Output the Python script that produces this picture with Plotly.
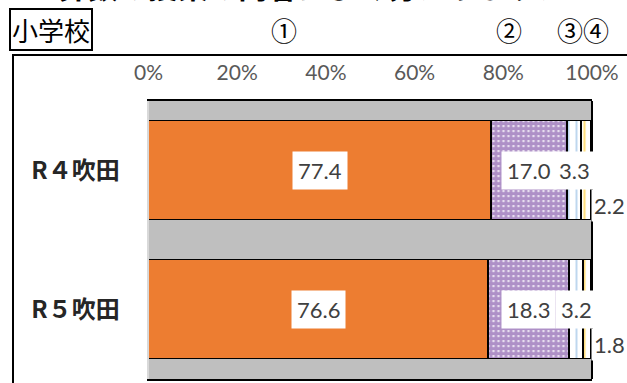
import plotly.graph_objects as go

# Survey results (percent) for each year, split by answer ①–④
categories = ["R４吹田", "R５吹田"]
answer1 = [77.4, 76.6]
answer2 = [17.0, 18.3]
answer3 = [3.3, 3.2]
answer4 = [2.2, 1.8]

tick_values = [0, 20, 40, 60, 80, 100]
tick_labels = ["0%", "20%", "40%", "60%", "80%", "100%"]

title_text = "６．算数の授業の内容はよく分かりますか"
group_label = "小学校"
answer_marks = ["①", "②", "③", "④"]

W, H = 627, 383
JP = "Noto Sans CJK JP"
NUM = "Lato"


def px(x):
    return x / W


def py(y):
    return 1 - y / H


fig = go.Figure()

series = [
    (answer1, dict(color="#ED7D31")),
    (answer2, dict(color="white",
                   pattern=dict(shape=".", fgcolor="#5E2290", bgcolor="white",
                                size=5, solidity=0.8, fillmode="overlay"))),
    (answer3, dict(color="white",
                   pattern=dict(shape="|", fgcolor="#5B9BD5", bgcolor="white",
                                size=8, solidity=0.2, fillmode="overlay"))),
    (answer4, dict(color="white",
                   pattern=dict(shape="|", fgcolor="#FFC000", bgcolor="white",
                                size=8, solidity=0.28, fillmode="overlay"))),
]
for vals, marker in series:
    marker["line"] = dict(color="black", width=1.5)
    fig.add_trace(go.Bar(
        y=categories, x=vals, orientation="h", width=0.71,
        marker=marker, hoverinfo="skip", showlegend=False,
    ))

# value labels on white boxes
label_font = dict(family=NUM, size=22, color="#404040")
for i, cat in enumerate(categories):
    a, b, c, d = answer1[i], answer2[i], answer3[i], answer4[i]
    centers = [a / 2, a + b / 2, a + b + c / 2]
    for val, cx in zip([a, b, c], centers):
        fig.add_annotation(x=cx, y=cat, xref="x", yref="y", text=f"{val:.1f}",
                           showarrow=False, font=label_font, bgcolor="white",
                           borderpad=5, xanchor="center", yanchor="middle")
    fig.add_annotation(x=a + b + c + d, y=cat, xref="x", yref="y",
                       text=f"{d:.1f}", showarrow=False, font=label_font,
                       bgcolor="white", borderpad=2, xanchor="left",
                       yanchor="middle", xshift=-1, yshift=-35)

# outer frame of the chart panel
fig.add_shape(type="rect", xref="paper", yref="paper",
              x0=px(13), x1=px(640), y0=py(55), y1=py(400),
              line=dict(color="black", width=2), fillcolor="rgba(0,0,0,0)",
              layer="below")
# right border of the plot area
fig.add_shape(type="line", xref="x domain", yref="y domain",
              x0=1, x1=1, y0=0, y1=1, line=dict(color="black", width=2))

# header texts
fig.add_annotation(x=px(-4), y=py(9), xref="paper", yref="paper",
                   xanchor="left", yanchor="bottom", text=f"<b>{title_text}</b>",
                   showarrow=False, font=dict(family=JP, size=30, color="black"))
fig.add_annotation(x=px(51), y=py(29), xref="paper", yref="paper",
                   xanchor="center", yanchor="middle",
                   text=group_label, showarrow=False,
                   font=dict(family=JP, size=26, color="black"),
                   bordercolor="black", borderwidth=2, borderpad=1, bgcolor="white")
for mark, cx in zip(answer_marks, [284, 509, 570, 596]):
    fig.add_annotation(x=px(cx), y=py(29), xref="paper", yref="paper",
                       xanchor="center", yanchor="middle",
                       text=mark, showarrow=False,
                       font=dict(family=JP, size=26, color="black"))

fig.update_layout(
    width=W, height=H,
    margin=dict(l=0, r=0, t=0, b=0, autoexpand=False),
    paper_bgcolor="white",
    plot_bgcolor="#BFBFBF",
    barmode="stack",
    bargap=0,
    xaxis=dict(
        domain=[px(148.5), px(592)], range=[0, 100], side="top",
        tickvals=tick_values, ticktext=tick_labels,
        tickfont=dict(family=NUM, size=21, color="#595959"),
        showgrid=False, zeroline=False, ticks="",
        showline=True, linecolor="black", linewidth=2, mirror=True,
        ticklabelstandoff=11, fixedrange=True,
    ),
    yaxis=dict(
        domain=[py(379), py(101)], autorange="reversed",
        tickfont=dict(family=JP, size=24, color="#262626", weight="bold"),
        showgrid=False, zeroline=False, ticks="",
        showline=True, linecolor="#D9D9D9", linewidth=2,
        ticklabelstandoff=22, fixedrange=True,
    ),
)

fig.write_html("out.html")
